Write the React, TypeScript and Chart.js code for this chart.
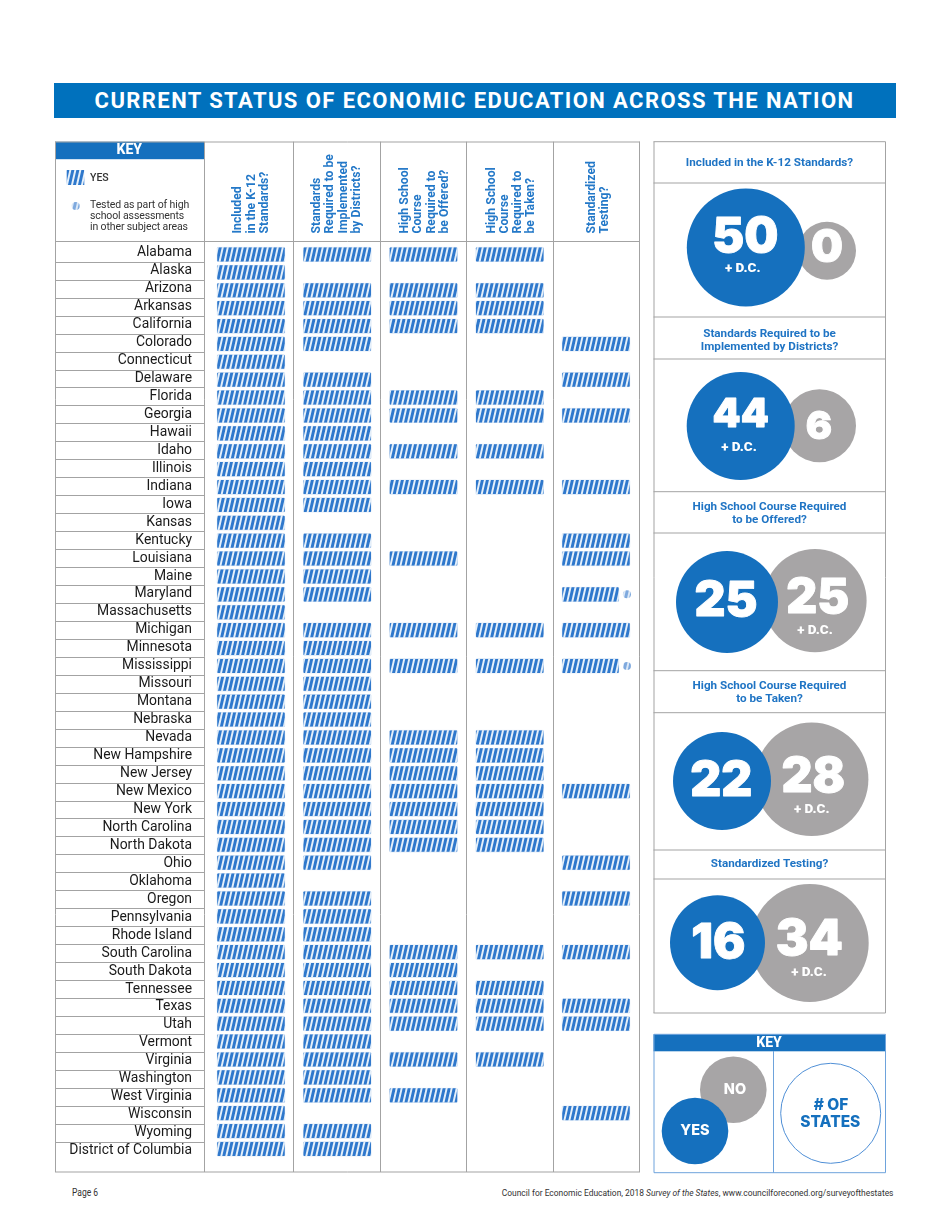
import { useEffect, useRef } from "react"
import { Chart, registerables } from "chart.js"

Chart.register(...registerables)

const states = [
  "Alabama", "Alaska", "Arizona", "Arkansas", "California", "Colorado", "Connecticut", "Delaware", "Florida",
  "Georgia", "Hawaii", "Idaho", "Illinois", "Indiana", "Iowa", "Kansas", "Kentucky", "Louisiana", "Maine",
  "Maryland", "Massachusetts", "Michigan", "Minnesota", "Mississippi", "Missouri", "Montana", "Nebraska",
  "Nevada", "New Hampshire", "New Jersey", "New Mexico", "New York", "North Carolina", "North Dakota", "Ohio",
  "Oklahoma", "Oregon", "Pennsylvania", "Rhode Island", "South Carolina", "South Dakota", "Tennessee", "Texas",
  "Utah", "Vermont", "Virginia", "Washington", "West Virginia", "Wisconsin", "Wyoming", "District of Columbia",
]

// every state answers yes in the first column
const includedYes = states
const districtsNo = ["Alaska", "Connecticut", "Kansas", "Massachusetts", "Oklahoma", "Wisconsin"]
const districtsYes = states.filter((s) => !districtsNo.includes(s))
const offeredYes = [
  "Alabama", "Arizona", "Arkansas", "California", "Florida", "Georgia", "Idaho", "Indiana", "Louisiana",
  "Michigan", "Mississippi", "Nevada", "New Hampshire", "New Jersey", "New Mexico", "New York", "North Carolina",
  "North Dakota", "South Carolina", "South Dakota", "Tennessee", "Texas", "Utah", "Virginia", "West Virginia",
]
const takenYes = [
  "Alabama", "Arizona", "Arkansas", "California", "Florida", "Georgia", "Idaho", "Indiana", "Michigan",
  "Mississippi", "Nevada", "New Hampshire", "New Jersey", "New Mexico", "New York", "North Carolina",
  "North Dakota", "South Carolina", "Tennessee", "Texas", "Utah", "Virginia",
]
const testingYes = [
  "Colorado", "Delaware", "Georgia", "Indiana", "Kentucky", "Louisiana", "Maryland", "Michigan", "Mississippi",
  "New Mexico", "Ohio", "Oregon", "South Carolina", "Texas", "Utah", "Wisconsin",
]
const testedElsewhere = ["Maryland", "Mississippi"]

const columnAnswers = [includedYes, districtsYes, offeredYes, takenYes, testingYes]
const columnHeads = [
  ["Included", "in the K-12", "Standards?"],
  ["Standards", "Required to be", "Implemented", "by Districts?"],
  ["High School", "Course", "Required to", "be Offered?"],
  ["High School", "Course", "Required to", "be Taken?"],
  ["Standardized", "Testing?"],
]

const yesCounts = [50, 44, 25, 22, 16]
const noCounts = [0, 6, 25, 28, 34]
const panelTitles = [
  ["Included in the K-12 Standards?"],
  ["Standards Required to be", "Implemented by Districts?"],
  ["High School Course Required", "to be Offered?"],
  ["High School Course Required", "to be Taken?"],
  ["Standardized Testing?"],
]

// layout of the right column, in page pixels
const yesSpots = [
  { x: 745.8, y: 247.5, r: 59 },
  { x: 740.7, y: 426, r: 54 },
  { x: 727, y: 602, r: 51 },
  { x: 722, y: 781, r: 49 },
  { x: 717.5, y: 942.7, r: 47.5 },
]
const noSpots = [
  { x: 827, y: 250.8, r: 29 },
  { x: 819.5, y: 425.8, r: 36.5 },
  { x: 815, y: 600.7, r: 51.6 },
  { x: 811.7, y: 779.3, r: 56.7 },
  { x: 809.7, y: 943, r: 59 },
]
const yesLabelSpots = [
  { x: 745.3, y: 237.3, size: 48 },
  { x: 740.7, y: 414.7, size: 40 },
  { x: 726, y: 602, size: 48 },
  { x: 721.3, y: 782, size: 48 },
  { x: 718.3, y: 944, size: 48 },
]
const noLabelSpots = [
  { x: 827, y: 248.5, size: 45 },
  { x: 819, y: 427, size: 39 },
  { x: 817.7, y: 599, size: 48 },
  { x: 813.3, y: 777.3, size: 48 },
  { x: 809.3, y: 940, size: 49 },
]
const dcLabelSpots = [
  { x: 742.7, y: 269 },
  { x: 739, y: 447.7 },
  { x: 815, y: 630.7 },
  { x: 811.7, y: 810 },
  { x: 809, y: 972.7 },
]
const titleLineY = [[163], [334, 347], [506.7, 520], [685.7, 699], [864]]
const panelLines = [141.7, 183, 317, 359, 491.7, 533, 670.7, 712.7, 850, 879, 1013]

const keyYes = { x: 695, y: 1131, r: 33.3 }
const keyNo = { x: 733.3, y: 1089.7, r: 33.3 }
const keyStates = { x: 830.7, y: 1113.3, r: 50 }

const BLUE = "#1570be"
const GRAY = "#a7a5a6"
const LINE = "#a3a3a3"
const HEAD = "#2378c8"

// x positions of the column separators, in column units
const columnEdges = [0, 1.023, 2.023, 3.011, 4.011, 5]
const headNudge = [3, 0.5, 2, 2, 2.5]
const barStep = 0.9914
const barStart = 0.149
const barWidth = 0.782
const barShortWidth = 0.655

function stripes(ink: string, gap: string) {
  const tile = document.createElement("canvas")
  tile.width = 5
  tile.height = 22
  const c = tile.getContext("2d")!
  c.fillStyle = gap
  c.fillRect(0, 0, 5, 22)
  c.fillStyle = ink
  for (let x0 = -5; x0 <= 5; x0 += 5) {
    c.beginPath()
    c.moveTo(x0, 22)
    c.lineTo(x0 + 5, 0)
    c.lineTo(x0 + 8, 0)
    c.lineTo(x0 + 3, 22)
    c.closePath()
    c.fill()
  }
  return c.createPattern(tile, "repeat")!
}

const tablePlugin = {
  id: "tableFrame",
  afterDatasetsDraw(chart: any) {
    const { ctx, scales } = chart
    const { x, y, yBars } = scales
    ctx.save()

    // key box
    ctx.fillStyle = BLUE
    ctx.fillRect(55, 141.7, 149, 17.5)
    ctx.fillStyle = "#fff"
    ctx.font = "800 14px Roboto"
    ctx.textAlign = "center"
    ctx.textBaseline = "middle"
    ctx.fillText("KEY", 129.3, 150.8)

    ctx.fillStyle = stripes("#2f78cc", "#e6f0fa")
    ctx.fillRect(66.7, 170, 17.6, 15)
    ctx.beginPath()
    ctx.arc(75.7, 206, 4, 0, Math.PI * 2)
    ctx.fillStyle = stripes("#7ea9de", "#dce9f7")
    ctx.fill()

    ctx.fillStyle = "#333"
    ctx.textAlign = "left"
    ctx.font = "500 10.5px Roboto"
    ctx.fillText("YES", 90, 178)
    ctx.letterSpacing = "-0.12px"
    ctx.font = "400 10.5px Roboto"
    ctx.fillText("Tested as part of high", 90, 205)
    ctx.fillText("school assessments", 90, 216)
    ctx.fillText("in other subject areas", 90, 227)
    ctx.letterSpacing = "0px"

    // frame lines
    ctx.strokeStyle = LINE
    ctx.lineWidth = 1
    ctx.beginPath()
    columnEdges.forEach((edge) => {
      const px = Math.round(x.getPixelForValue(edge)) + 0.5
      ctx.moveTo(px, 141.7)
      ctx.lineTo(px, 1172)
    })
    ctx.moveTo(55.5, 141.7)
    ctx.lineTo(55.5, 1172)
    ctx.moveTo(55, 142)
    ctx.lineTo(640, 142)
    ctx.moveTo(55, 241.5)
    ctx.lineTo(640, 241.5)
    ctx.moveTo(55, 1172)
    ctx.lineTo(640, 1172)
    for (let i = 1; i < states.length; i++) {
      const py = Math.round(y.getPixelForValue(i - 0.5)) + 0.5
      ctx.moveTo(55, py)
      ctx.lineTo(x.getPixelForValue(0), py)
    }
    ctx.stroke()

    // column headings
    ctx.fillStyle = HEAD
    ctx.font = "700 12.2px Roboto"
    ctx.textAlign = "left"
    columnHeads.forEach((lines, col) => {
      const mid = x.getPixelForValue((columnEdges[col] + columnEdges[col + 1]) / 2) + headNudge[col]
      lines.forEach((line, k) => {
        ctx.save()
        ctx.translate(mid + (k - (lines.length - 1) / 2) * 13.3, 233.5)
        ctx.rotate(-Math.PI / 2)
        ctx.fillText(line, 0, 0)
        ctx.restore()
      })
    })

    // small markers after the shortened bars
    testedElsewhere.forEach((name) => {
      const cx = x.getPixelForValue(4 * barStep + barStart + barShortWidth + 0.092)
      const cy = yBars.getPixelForValue(states.indexOf(name))
      ctx.beginPath()
      ctx.arc(cx, cy, 4, 0, Math.PI * 2)
      ctx.fillStyle = stripes("#7ea9de", "#dce9f7")
      ctx.fill()
    })
    ctx.restore()
  },
}

const bubbleLabelPlugin = {
  id: "bubbleLabels",
  afterDatasetsDraw(chart: any) {
    const { ctx, scales } = chart
    const { x, y } = scales
    const at = (px: number, py: number, text: string) => ctx.fillText(text, x.getPixelForValue(px), y.getPixelForValue(py))
    const heavyAt = (px: number, py: number, text: string) => {
      ctx.strokeText(text, x.getPixelForValue(px), y.getPixelForValue(py))
      at(px, py, text)
    }
    ctx.save()
    ctx.textAlign = "center"
    ctx.textBaseline = "middle"

    ctx.strokeStyle = LINE
    ctx.lineWidth = 1
    ctx.beginPath()
    panelLines.forEach((line) => {
      ctx.moveTo(x.getPixelForValue(653.5), y.getPixelForValue(line))
      ctx.lineTo(x.getPixelForValue(885.5), y.getPixelForValue(line))
    })
    ctx.moveTo(x.getPixelForValue(654), y.getPixelForValue(141.7))
    ctx.lineTo(x.getPixelForValue(654), y.getPixelForValue(1013))
    ctx.moveTo(x.getPixelForValue(885.5), y.getPixelForValue(141.7))
    ctx.lineTo(x.getPixelForValue(885.5), y.getPixelForValue(1013))
    ctx.stroke()

    ctx.fillStyle = "#1f74c4"
    ctx.font = "700 11.7px Roboto"
    panelTitles.forEach((lines, p) => lines.forEach((line, k) => at(769.5, titleLineY[p][k], line)))

    ctx.fillStyle = "#fff"
    ctx.strokeStyle = "#fff"
    ctx.lineWidth = 0.9
    ctx.lineJoin = "round"
    yesCounts.forEach((n, p) => {
      ctx.font = `900 ${yesLabelSpots[p].size}px Inter`
      heavyAt(yesLabelSpots[p].x, yesLabelSpots[p].y, String(n))
      ctx.font = `900 ${noLabelSpots[p].size}px Inter`
      heavyAt(noLabelSpots[p].x, noLabelSpots[p].y, String(noCounts[p]))
      ctx.font = "900 13.5px Roboto"
      at(dcLabelSpots[p].x, dcLabelSpots[p].y, "+ D.C.")
    })

    // key box
    ctx.fillStyle = BLUE
    ctx.fillRect(x.getPixelForValue(653.5), y.getPixelForValue(1034.3), 232, 17)
    ctx.strokeStyle = "#6ea3dc"
    ctx.lineWidth = 1
    ctx.strokeRect(x.getPixelForValue(654), y.getPixelForValue(1034.3), 231.5, 138.4)
    ctx.beginPath()
    ctx.moveTo(x.getPixelForValue(773.5), y.getPixelForValue(1051))
    ctx.lineTo(x.getPixelForValue(773.5), y.getPixelForValue(1172.7))
    ctx.stroke()
    ctx.fillStyle = "#fff"
    ctx.font = "800 14px Roboto"
    at(769, 1043.3, "KEY")
    ctx.font = "800 14.5px Inter"
    at(735, 1089.3, "NO")
    at(695, 1130.3, "YES")
    ctx.fillStyle = BLUE
    ctx.font = "800 15.5px Inter"
    at(831, 1105.3, "# OF")
    at(830.3, 1122.3, "STATES")
    ctx.restore()
  },
}

function StateTable() {
  const canvasRef = useRef<HTMLCanvasElement>(null)

  useEffect(() => {
    const ink = stripes("#2f78cc", "#e6f0fa")
    const chart = new Chart(canvasRef.current!, {
      type: "bar",
      plugins: [tablePlugin],
      data: {
        labels: states,
        datasets: columnAnswers.map((answers, col) => ({
          label: columnHeads[col].join(" "),
          xAxisID: "x",
          yAxisID: "yBars",
          grouped: false,
          barThickness: 14.6,
          backgroundColor: ink,
          borderColor: "rgba(47,120,204,0.25)",
          borderWidth: 0.6,
          borderRadius: 1.5,
          borderSkipped: false,
          data: answers.map((name) => {
            const start = col * barStep + barStart
            const width = col === 4 && testedElsewhere.includes(name) ? barShortWidth : barWidth
            return { x: [start, start + width], y: states.indexOf(name) }
          }),
        })),
      } as any,
      options: {
        indexAxis: "y",
        animation: false,
        responsive: false,
        layout: { padding: { top: 243.84, bottom: 10, right: 11, left: 0 } },
        plugins: { legend: { display: false }, tooltip: { enabled: false } },
        scales: {
          x: { type: "linear", min: 0, max: 5, display: false },
          y: {
            type: "category",
            offset: true,
            border: { display: false },
            grid: { display: false, drawTicks: false },
            afterFit: (scale: any) => {
              scale.width = 204
            },
            ticks: {
              autoSkip: false,
              padding: 12,
              color: "#1a1a1a",
              font: { family: "Roboto", size: 13.9, weight: 400 },
            },
          },
          yBars: {
            type: "linear",
            axis: "y",
            offset: false,
            display: false,
            reverse: true,
            min: -0.595,
            max: 50.6,
          },
        },
      } as any,
    })
    return () => chart.destroy()
  }, [])

  return (
    <canvas
      ref={canvasRef}
      width={650}
      height={1180}
      style={{ position: "absolute", left: 0, top: 0, display: "block" }}
    />
  )
}

function CountBubbles() {
  const canvasRef = useRef<HTMLCanvasElement>(null)

  useEffect(() => {
    const chart = new Chart(canvasRef.current!, {
      type: "bubble",
      plugins: [bubbleLabelPlugin],
      data: {
        datasets: [
          { label: "Yes", data: [...yesSpots, keyYes], backgroundColor: BLUE, borderWidth: 0 },
          { label: "No", data: [...noSpots, keyNo], backgroundColor: GRAY, borderWidth: 0 },
          {
            label: "# of states",
            data: [keyStates],
            backgroundColor: "rgba(255,255,255,0)",
            borderColor: "#4f8fd6",
            borderWidth: 1,
          },
        ],
      },
      options: {
        animation: false,
        responsive: false,
        clip: false,
        layout: { autoPadding: false },
        plugins: { legend: { display: false }, tooltip: { enabled: false } },
        scales: {
          x: { type: "linear", min: 650, max: 890, display: false },
          y: { type: "linear", min: 135, max: 1180, reverse: true, display: false },
        },
      } as any,
    })
    return () => chart.destroy()
  }, [])

  return (
    <canvas
      ref={canvasRef}
      width={240}
      height={1045}
      style={{ position: "absolute", left: 650, top: 135, display: "block" }}
    />
  )
}

export default function App() {
  return (
    <div
      style={{
        position: "absolute",
        left: 0,
        top: 0,
        width: 950,
        height: 1229,
        background: "#fff",
        overflow: "hidden",
        fontFamily: "Roboto",
      }}
    >
      <div
        style={{
          position: "absolute",
          left: 53.5,
          top: 82.7,
          width: 842,
          height: 35.5,
          lineHeight: "35.5px",
          background: "#0071bd",
          color: "#fff",
          fontWeight: 700,
          fontSize: 22,
          letterSpacing: 1.42,
          textAlign: "center",
          whiteSpace: "nowrap",
        }}
      >
        CURRENT STATUS OF ECONOMIC EDUCATION ACROSS THE NATION
      </div>
      <StateTable />
      <CountBubbles />
      <div
        style={{
          position: "absolute",
          left: 72,
          top: 1186,
          fontSize: 10,
          lineHeight: "14px",
          color: "#333",
          transform: "scaleX(0.85)",
          transformOrigin: "left center",
        }}
      >
        Page 6
      </div>
      <div
        style={{
          position: "absolute",
          right: 57,
          top: 1186,
          fontSize: 9.8,
          lineHeight: "14px",
          color: "#333",
          whiteSpace: "nowrap",
          transform: "scaleX(0.86)",
          transformOrigin: "right center",
        }}
      >
        Council for Economic Education, 2018 <i>Survey of the States</i>, www.councilforeconed.org/surveyofthestates
      </div>
    </div>
  )
}
